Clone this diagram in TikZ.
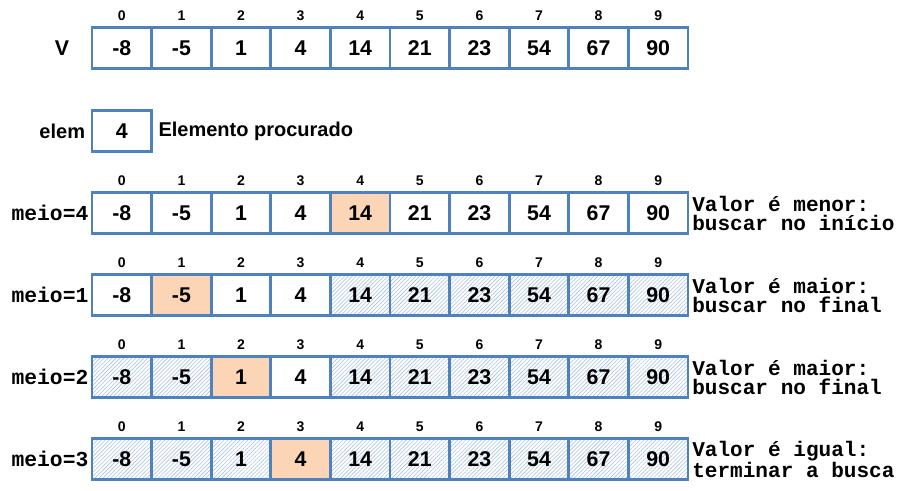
\documentclass[tikz,border=0pt]{standalone}
\usepackage{fontspec}
\setmainfont{Liberation Sans}
\newfontfamily\codefont{Liberation Mono}
\usepackage{tikz}
\usetikzlibrary{positioning,patterns.meta}
\definecolor{vblue}{HTML}{4F81BD}
\definecolor{peach}{HTML}{FBD5B5}
\definecolor{hatch}{HTML}{ABC2E2}

\begin{document}
\begin{tikzpicture}[x=0.75pt, y=-0.75pt, font=\bfseries,
  cell/.style={draw=vblue, line width=2pt, inner sep=0pt, minimum width=44.7pt, minimum height=30.75pt, font=\bfseries\fontsize{16}{19}\selectfont},
  hit/.style={cell, fill=peach},
  off/.style={cell, preaction={fill=white}, pattern={Lines[angle=45, distance=2.1pt, line width=0.45pt]}, pattern color=hatch},
  idx/.style={inner sep=0pt, font=\bfseries\fontsize{10.5}{12}\selectfont},
  lbl/.style={inner sep=0pt, font=\codefont\bfseries\fontsize{16}{18}\selectfont},
  note/.style={inner sep=0pt, align=left, font=\codefont\bfseries\fontsize{15.8}{14.3}\selectfont}]
\useasboundingbox (0,0) rectangle (916,490);
% the vector
\foreach \v [count=\k from 0] in {-8,-5,1,4,14,21,23,54,67,90} {
  \node[cell] (r0-\k) at (121.8+59.6*\k, 48) {\v};
  \node[idx] at (121.8+59.6*\k, 16) {\k};
}
\node[font=\bfseries\fontsize{16}{19}\selectfont, inner sep=0pt, left=16pt of r0-0] (vname) {V};
% searched element
\node[cell] (elem) at (121.8, 131) {4};
\node[font=\bfseries\fontsize{15}{17}\selectfont, inner sep=0pt, left=4pt of elem] (elemname) {elem};
\node[font=\bfseries\fontsize{15}{17}\selectfont, inner sep=0pt, right=4pt of elem] (elemtxt) {Elemento procurado};
% search steps: row/y/first/last/meio
\foreach \r/\y/\lo/\hi/\m in {1/213/0/9/4, 2/295/0/3/1, 3/377/2/3/2, 4/459/3/3/3} {
  \foreach \v [count=\k from 0] in {-8,-5,1,4,14,21,23,54,67,90} {
    \ifnum\k=\m \def\st{hit}\else\ifnum\k<\lo \def\st{off}\else\ifnum\k>\hi \def\st{off}\else\def\st{cell}\fi\fi\fi
    \node[\st] (r\r-\k) at (121.8+59.6*\k, \y) {\v};
    \node[idx] at (121.8+59.6*\k, \y-32.5) {\k};
  }
  \node[lbl, left=1.5pt of r\r-0] {meio=\m};
}
\node[note, right=2pt of r1-9] (n1) {Valor é menor:\\buscar no início};
\node[note, right=2pt of r2-9] (n2) {Valor é maior:\\buscar no final};
\node[note, right=2pt of r3-9] (n3) {Valor é maior:\\buscar no final};
\node[note, right=2pt of r4-9] (n4) {Valor é igual:\\terminar a busca};
\end{tikzpicture}
\end{document}
